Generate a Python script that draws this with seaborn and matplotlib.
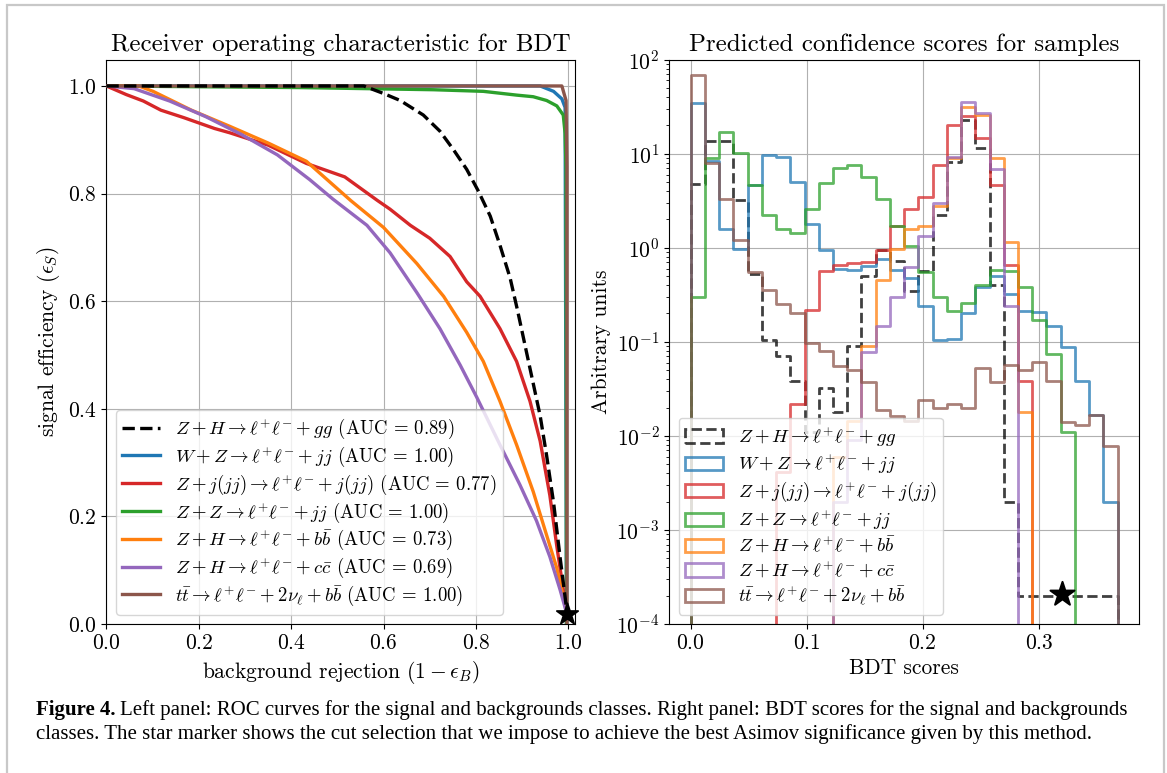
import numpy as np
import pandas as pd
import matplotlib
matplotlib.use("Agg")
import matplotlib.pyplot as plt
from matplotlib import font_manager
from matplotlib.patches import Patch, Rectangle
from matplotlib.lines import Line2D
import seaborn as sns

# ------------------------------------------------------------------ data
class_labels = [
    r"$Z+H \rightarrow \ell^{+}\ell^{-} + gg$",
    r"$W+Z \rightarrow \ell^{+}\ell^{-} + jj$",
    r"$Z+j(jj) \rightarrow \ell^{+}\ell^{-} + j(jj)$",
    r"$Z+Z \rightarrow \ell^{+}\ell^{-} + jj$",
    r"$Z+H \rightarrow \ell^{+}\ell^{-} + b\bar{b}$",
    r"$Z+H \rightarrow \ell^{+}\ell^{-} + c\bar{c}$",
    r"$t\bar{t} \rightarrow \ell^{+}\ell^{-} + 2\nu_{\ell} + b\bar{b}$",
]
auc_values = ["0.89", "1.00", "0.77", "1.00", "0.73", "0.69", "1.00"]

# ROC curves: background rejection (x) vs signal efficiency (y)
roc_zh_gg_x = [0.0, 0.557, 0.60, 0.636, 0.686, 0.722, 0.751, 0.780, 0.805, 0.831, 0.852,
               0.874, 0.89, 0.907, 0.922, 0.939, 0.953, 0.968, 0.982, 0.993, 0.998]
roc_zh_gg_y = [1.0, 1.0, 0.986, 0.973, 0.946, 0.916, 0.882, 0.845, 0.805, 0.758, 0.704,
               0.643, 0.583, 0.515, 0.455, 0.387, 0.313, 0.226, 0.125, 0.05, 0.015]

roc_wz_x = [0.0, 0.939, 0.968, 0.986, 0.993, 0.996]
roc_wz_y = [1.0, 1.0, 0.99, 0.976, 0.96, 0.0]

roc_zj_x = [0.0, 0.043, 0.08, 0.118, 0.168, 0.234, 0.267, 0.35, 0.433, 0.516, 0.587,
            0.614, 0.658, 0.70, 0.744, 0.78, 0.809, 0.852, 0.888, 0.917, 0.939, 0.960,
            0.975, 0.989, 0.998]
roc_zj_y = [1.0, 0.984, 0.972, 0.955, 0.941, 0.921, 0.913, 0.890, 0.856, 0.831, 0.787,
            0.771, 0.741, 0.717, 0.683, 0.636, 0.609, 0.549, 0.488, 0.414, 0.34, 0.239,
            0.145, 0.064, 0.015]

roc_zz_x = [0.0, 0.42, 0.708, 0.816, 0.888, 0.924, 0.953, 0.975, 0.989, 0.993, 0.995, 0.996]
roc_zz_y = [1.0, 0.997, 0.993, 0.99, 0.983, 0.98, 0.973, 0.963, 0.946, 0.912, 0.845, 0.0]

roc_zh_bb_x = [0.0, 0.07, 0.101, 0.184, 0.267, 0.35, 0.433, 0.529, 0.60, 0.672, 0.73,
               0.78, 0.816, 0.852, 0.888, 0.924, 0.953, 0.975, 0.989, 0.998]
roc_zh_bb_y = [1.0, 1.0, 0.99, 0.955, 0.925, 0.894, 0.860, 0.787, 0.737, 0.670, 0.609,
               0.542, 0.488, 0.414, 0.333, 0.246, 0.165, 0.104, 0.05, 0.015]

roc_zh_cc_x = [0.0, 0.06, 0.137, 0.215, 0.292, 0.37, 0.44, 0.49, 0.564, 0.614, 0.672,
               0.722, 0.766, 0.802, 0.852, 0.895, 0.931, 0.96, 0.982, 0.998]
roc_zh_cc_y = [1.0, 0.995, 0.972, 0.943, 0.91, 0.872, 0.826, 0.79, 0.741, 0.69, 0.616,
               0.549, 0.481, 0.421, 0.333, 0.259, 0.192, 0.125, 0.064, 0.015]

roc_tt_x = [0.0, 0.986, 0.995, 0.997, 0.997]
roc_tt_y = [1.0, 1.0, 0.973, 0.85, 0.0]

roc_cut_point = (0.998, 0.018)

# BDT score histograms (30 equal bins between these limits)
score_min, score_max, n_bins = 0.0, 0.368, 30
hist_zh_gg = [4.8, 13.6, 13.6, 3.2, 0.52, 0.105, 0.07, 0.038, 0.011, 0.032,
              0.018, 0.09, 0.5, 0.95, 0.72, 0.35, 0.57, 2.25, 8.1, 22.6,
              11.6, 0.40, 0.002, 2e-4, 2e-4, 2e-4, 2e-4, 2e-4, 2e-4, 2e-4]
hist_wz = [34.7, 8.3, 1.57, 0.97, 4.7, 9.6, 9.2, 5.0, 1.8, 0.95,
           0.6, 0.58, 0.64, 0.75, 0.58, 0.48, 0.24, 0.105, 0.107, 0.2,
           0.38, 0.5, 0.32, 0.21, 0.205, 0.148, 0.087, 0.038, 0.0165, 0.002]
hist_zj = [0, 0, 0, 0, 0, 0, 0.0041, 0.022, 0.22, 0.57,
           0.66, 0.69, 0.70, 0.95, 1.72, 2.6, 3.5, 7.6, 20.0, 25.0,
           14.5, 4.6, 0.65, 0.038, 0, 0, 0, 0, 0, 0]
hist_zz = [0.3, 9.1, 16.9, 10.2, 4.7, 2.24, 1.6, 1.45, 2.6, 4.9,
           7.0, 7.5, 5.6, 3.3, 1.72, 1.05, 0.55, 0.3, 0.21, 0.26,
           0.40, 0.58, 0.57, 0.38, 0.17, 0.075, 0.011, 0, 0, 0]
hist_zh_bb = [0, 0, 0, 0, 0, 0, 0, 0, 0, 0,
              0.006, 0.0145, 0.091, 0.45, 0.97, 1.6, 1.72, 2.8, 9.1, 31.0,
              26.0, 8.9, 1.15, 0.018, 0, 0, 0, 0, 0, 0]
hist_zh_cc = [0, 0, 0, 0, 0, 0, 0, 0, 0, 0,
              0.002, 0.009, 0.077, 0.147, 0.3, 0.62, 1.34, 3.0, 9.3, 35.0,
              27.0, 6.9, 0.243, 0, 0, 0, 0, 0, 0, 0]
hist_tt = [69.0, 7.9, 3.27, 1.22, 0.55, 0.353, 0.25, 0.2, 0.097, 0.079,
           0.055, 0.05, 0.037, 0.0188, 0.0163, 0.0144, 0.024, 0.020, 0.022, 0.020,
           0.053, 0.037, 0.056, 0.05, 0.061, 0.038, 0.0142, 0.013, 0.0165, 0.0078]

hist_cut_point = (0.32, 2.1e-4)

# ------------------------------------------------------------------ style
plt.rcParams["font.family"] = "serif"
plt.rcParams["font.serif"] = ["cmr10"]
plt.rcParams["mathtext.fontset"] = "cm"
plt.rcParams["axes.formatter.use_mathtext"] = True
plt.rcParams["axes.unicode_minus"] = False

colors = ["black", "#1f77b4", "#d62728", "#2ca02c", "#ff7f0e", "#9467bd", "#8c564b"]
styles = ["--", "-", "-", "-", "-", "-", "-"]

W, H = 1167, 773
fig = plt.figure(figsize=(W / 100, H / 100), dpi=100)

# frame around the whole figure
fig.patches.append(Rectangle((7 / W, -0.02), (1164 - 7) / W, 1 - 5 / H + 0.02,
                             transform=fig.transFigure, fill=False,
                             edgecolor="#c8c8c8", linewidth=1.6))

ax1 = fig.add_axes([106.4 / W, 149 / H, (574.8 - 106.4) / W, (623.7 - 59.3) / H])
ax2 = fig.add_axes([669.3 / W, 149 / H, (1139 - 669.3) / W, (623.7 - 59.3) / H])

tick_fs = 15.5
label_fs = 15.5
title_fs = 18
legend_fs = 13.5

# ------------------------------------------------------------------ left: ROC
roc_x = [roc_zh_gg_x, roc_wz_x, roc_zj_x, roc_zz_x, roc_zh_bb_x, roc_zh_cc_x, roc_tt_x]
roc_y = [roc_zh_gg_y, roc_wz_y, roc_zj_y, roc_zz_y, roc_zh_bb_y, roc_zh_cc_y, roc_tt_y]
draw_order = [1, 2, 3, 4, 5, 6, 0]
for i in draw_order:
    sns.lineplot(x=roc_x[i], y=roc_y[i], sort=False, estimator=None, ax=ax1,
                 color=colors[i], linestyle=styles[i], linewidth=2.4,
                 zorder=3 if i else 4)
sns.scatterplot(x=[roc_cut_point[0]], y=[roc_cut_point[1]], marker="*", s=260,
                color="black", edgecolor="black", ax=ax1, zorder=6, clip_on=False)

ax1.set_xlim(0, 1.014)
ax1.set_ylim(0, 1.049)
ax1.set_xticks([0.0, 0.2, 0.4, 0.6, 0.8, 1.0])
ax1.set_yticks([0.0, 0.2, 0.4, 0.6, 0.8, 1.0])
ax1.grid(True, color="#b0b0b0", linewidth=0.8)
ax1.set_axisbelow(True)
ax1.tick_params(labelsize=tick_fs)
ax1.set_xlabel(r"background rejection $(1-\epsilon_B)$", fontsize=label_fs)
ax1.set_ylabel(r"signal efficiency $(\epsilon_S)$", fontsize=label_fs)
ax1.set_title("Receiver operating characteristic for BDT", fontsize=title_fs, pad=6)

roc_handles = [Line2D([], [], color=colors[i], linestyle=styles[i], linewidth=2.4)
               for i in range(7)]
roc_labels = [f"{class_labels[i]} (AUC = {auc_values[i]})" for i in range(7)]
ax1.legend(roc_handles, roc_labels, loc="lower left", fontsize=legend_fs,
           labelspacing=0.18, borderpad=0.35)

# ------------------------------------------------------------------ right: histograms
edges = np.linspace(score_min, score_max, n_bins + 1)
centers = 0.5 * (edges[:-1] + edges[1:])
eps = 1e-7
plot_edges = [float(v) for v in np.concatenate([[edges[0] - eps], edges, [edges[-1] + eps]])]
plot_centers = np.concatenate([[edges[0] - eps / 2], centers, [edges[-1] + eps / 2]])

hists = [hist_zh_gg, hist_wz, hist_zj, hist_zz, hist_zh_bb, hist_zh_cc, hist_tt]
for i in range(7):
    w = np.concatenate([[0.0], np.asarray(hists[i], dtype=float), [0.0]])
    df = pd.DataFrame({"score": plot_centers, "weight": w})
    sns.histplot(data=df, x="score", weights="weight", bins=plot_edges, element="step",
                 fill=False, color=colors[i], linestyle=styles[i], linewidth=2.0,
                 alpha=0.75, ax=ax2)
sns.scatterplot(x=[hist_cut_point[0]], y=[hist_cut_point[1]], marker="*", s=330,
                color="black", edgecolor="black", ax=ax2, zorder=6)

ax2.set_yscale("log")
ax2.set_ylim(1e-4, 1e2)
ax2.set_xlim(score_min - 0.05 * (score_max - score_min), score_max + 0.05 * (score_max - score_min))
ax2.set_xticks([0.0, 0.1, 0.2, 0.3])
ax2.grid(True, which="major", color="#b0b0b0", linewidth=0.8)
ax2.set_axisbelow(True)
ax2.tick_params(labelsize=tick_fs)
ax2.set_xlabel("BDT scores", fontsize=label_fs)
ax2.set_ylabel("Arbitrary units", fontsize=label_fs)
ax2.set_title("Predicted confidence scores for samples", fontsize=title_fs, pad=6)

hist_handles = [Patch(facecolor="none", edgecolor=colors[i], linestyle=styles[i],
                      linewidth=2.0, alpha=0.75) for i in range(7)]
ax2.legend(hist_handles, class_labels, loc="lower left", fontsize=legend_fs,
           labelspacing=0.18, borderpad=0.35)

# ------------------------------------------------------------------ caption
available = {f.name for f in font_manager.fontManager.ttflist}
cap_family = "DejaVu Serif"
for cand in ["Liberation Serif", "Noto Serif", "DejaVu Serif"]:
    if cand in available:
        cap_family = cand
        break

line1_bold = "Figure 4."
line1_rest = "Left panel: ROC curves for the signal and backgrounds classes. Right panel: BDT scores for the signal and backgrounds"
line2 = "classes. The star marker shows the cut selection that we impose to achieve the best Asimov significance given by this method."

x0 = 36 / W
y1 = 1 - 715 / H
y2 = 1 - 739 / H
fs = 13
tb = fig.text(x0, y1, line1_bold, fontsize=fs, fontweight="bold", family=cap_family,
              va="baseline", ha="left")
tr = fig.text(x0, y1, line1_rest, fontsize=fs, family=cap_family, va="baseline", ha="left")
t2 = fig.text(x0, y2, line2, fontsize=fs, family=cap_family, va="baseline", ha="left")
renderer = fig.canvas.get_renderer()
gap_px = 5
wb = tb.get_window_extent(renderer).width
wr = tr.get_window_extent(renderer).width
target = 1124 - 36
fs = fs * (target - gap_px) / (wb + wr)
for t in (tb, tr, t2):
    t.set_fontsize(fs)
# keep the two caption lines from touching
for _ in range(20):
    b1 = tr.get_window_extent(renderer)
    b2 = t2.get_window_extent(renderer)
    if b1.y0 > b2.y1 + 0.5:
        break
    fs *= 0.98
    for t in (tb, tr, t2):
        t.set_fontsize(fs)
bb = tb.get_window_extent(renderer)
tr.set_x((bb.x1 + gap_px) / W)

fig.savefig("out.png", dpi=100)
